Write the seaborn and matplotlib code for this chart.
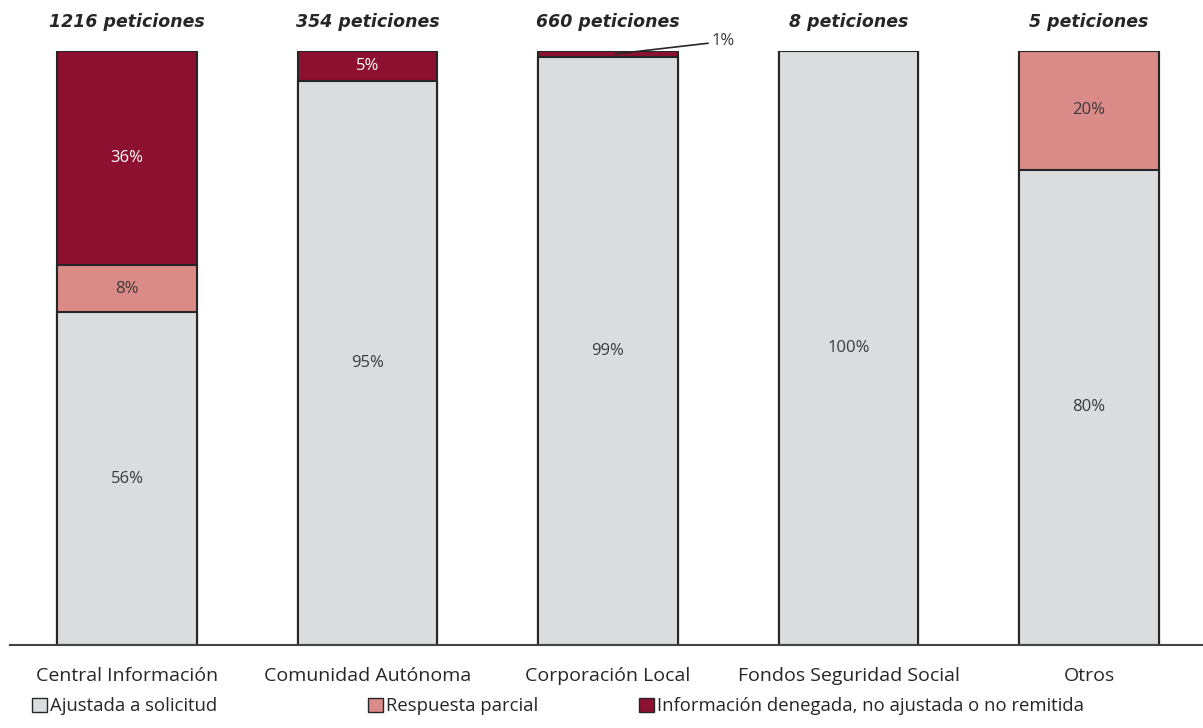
import matplotlib
matplotlib.use("Agg")
import matplotlib.pyplot as plt
import seaborn as sns
import pandas as pd
import numpy as np
from matplotlib.patches import Patch

categories = ["Central Información", "Comunidad Autónoma", "Corporación Local",
              "Fondos Seguridad Social", "Otros"]
titles = ["1216 peticiones", "354 peticiones", "660 peticiones", "8 peticiones", "5 peticiones"]
ajustada = [56, 95, 99, 100, 80]
parcial = [8, 0, 0, 0, 20]
denegada = [36, 5, 1, 0, 0]
series_names = ["Ajustada a solicitud", "Respuesta parcial",
                "Información denegada, no ajustada o no remitida"]

c_gray = "#DBDCDE"
c_pink = "#DA8A87"
c_red = "#8E1030"
edge = "#262626"
txt = "#3a3a3a"

sns.set_theme(style="white")
plt.rcParams['font.family'] = ['Open Sans', 'DejaVu Sans']

fig = plt.figure(figsize=(12.03, 7.28), dpi=100)
ax = fig.add_axes([10/1203, 83/728, 1193/1203, (645-51)/728])

df = pd.DataFrame({"cat": categories, "a": ajustada, "p": parcial, "d": denegada})
df["ap"] = df["a"] + df["p"]
df["apd"] = df["ap"] + df["d"]

w = 0.582
for col, color in [("apd", c_red), ("ap", c_pink), ("a", c_gray)]:
    sns.barplot(data=df, x="cat", y=col, color=color, width=w, ax=ax,
                edgecolor=edge, linewidth=1.5, saturation=1)

# labels
for i in range(len(categories)):
    a, p, d = ajustada[i], parcial[i], denegada[i]
    if a > 0:
        ax.text(i, a / 2, f"{a}%", ha="center", va="center", fontsize=12, color=txt)
    if p > 0:
        ax.text(i, a + p / 2, f"{p}%", ha="center", va="center", fontsize=12, color=txt)
    if d >= 3:
        ax.text(i, a + p + d / 2, f"{d}%", ha="center", va="center", fontsize=12, color="white")
    elif d > 0:
        ax.annotate(f"{d}%", xy=(i + 0.03, a + p + d / 2), xytext=(i + 0.43, 101.6),
                    ha="left", va="center", fontsize=12, color=txt,
                    arrowprops=dict(arrowstyle="-", color=edge, lw=1.2,
                                    shrinkA=0, shrinkB=0))
    ax.text(i, 104.8, titles[i], ha="center", va="center", fontsize=12.5,
            fontweight="bold", fontstyle="italic", color="#262626",
            family=["DejaVu Sans"])

ax.set_ylim(0, 100)
ax.set_xlim(-0.4865, 4.474)
ax.set_xlabel("")
ax.set_ylabel("")
ax.set_yticks([])
ax.tick_params(axis="x", labelsize=14, colors="#262626", length=0, pad=16)
for s in ["top", "right", "left"]:
    ax.spines[s].set_visible(False)
ax.spines["bottom"].set_color("#444444")
ax.spines["bottom"].set_linewidth(1.5)

handle_colors = [c_gray, c_pink, c_red]
legend_x = [30, 366, 637]
for name, c, lx in zip(series_names, handle_colors, legend_x):
    h = Patch(facecolor=c, edgecolor=edge, linewidth=1)
    fig.legend([h], [name], loc="center left", bbox_to_anchor=(lx/1203, 1 - 706/728),
               frameon=False, fontsize=13.3, handlelength=0.8, handleheight=0.8,
               handletextpad=0.2, labelcolor="#262626", borderaxespad=0, borderpad=0.1)

fig.savefig("out.png", dpi=100)
